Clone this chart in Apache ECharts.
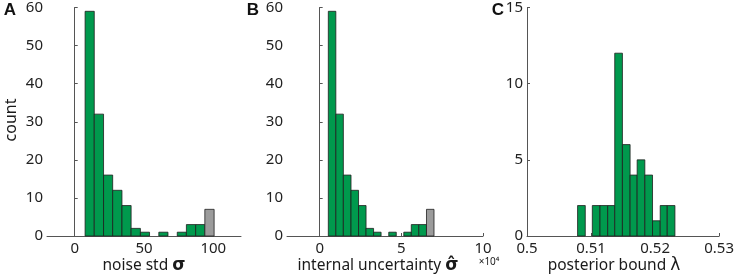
<!DOCTYPE html>
<html>
<head>
<meta charset="utf-8">
<script src="https://cdn.jsdelivr.net/npm/echarts@6/dist/echarts.min.js"></script>
<style>html,body{margin:0;padding:0;background:#fff;}#c{width:737px;height:280px;}</style>
</head>
<body>
<div id="c"></div>
<script>
// Panel A: noise std sigma
const edgesA = [7.5, 14.1, 20.8, 27.4, 34.1, 40.7, 47.4, 54.0, 60.7, 67.3, 74.0, 80.6, 87.3, 93.9, 100.6];
const countsA = [59, 32, 16, 12, 8, 2, 1, 0, 1, 0, 1, 3, 3, 7];
const excludedBinA = 13;
const xTicksA = [0, 50, 100];

// Panel B: internal uncertainty (x10^4)
const edgesB = [0.53, 0.99, 1.45, 1.92, 2.38, 2.84, 3.30, 3.76, 4.23, 4.69, 5.15, 5.61, 6.07, 6.54, 7.0];
const countsB = [59, 32, 16, 12, 8, 2, 1, 0, 1, 0, 1, 3, 3, 7];
const excludedBinB = 13;
const xTicksB = [0, 5, 10];

// Panel C: posterior bound lambda
const edgesC = [0.5079, 0.5091, 0.5102, 0.5114, 0.5126, 0.5137, 0.5149, 0.5161, 0.5172, 0.5184, 0.5196, 0.5208, 0.5219, 0.5231];
const countsC = [2, 0, 2, 2, 2, 12, 6, 4, 5, 4, 1, 2, 2];
const xTicksC = [0.5, 0.51, 0.52, 0.53];

const GREEN = '#00994d';
const GRAY = '#9b9b9b';
const AXIS = '#555555';
const FONT = 'Noto Sans';

function binData(edges, counts, excluded) {
  return counts.map((c, i) => [edges[i], edges[i + 1], c, i === excluded ? 1 : 0]);
}

function renderBar(params, api) {
  const y = api.value(2);
  if (!y) return null;
  const p0 = api.coord([api.value(0), y]);
  const p1 = api.coord([api.value(1), 0]);
  return {
    type: 'rect',
    shape: { x: p0[0], y: p0[1], width: p1[0] - p0[0], height: p1[1] - p0[1] },
    style: { fill: api.value(3) ? GRAY : GREEN, stroke: '#1e1e1e', lineWidth: 0.8 }
  };
}

function xAxisCfg(idx, min, max, ticks, fmt) {
  return {
    type: 'value', gridIndex: idx, min: min, max: max,
    axisLine: { show: true, lineStyle: { color: AXIS, width: 1 } },
    axisTick: { show: true, inside: true, length: 3, customValues: ticks, lineStyle: { color: AXIS } },
    axisLabel: { customValues: ticks, color: '#222', fontFamily: FONT, fontSize: 15, margin: 5, formatter: fmt },
    splitLine: { show: false }
  };
}
function yAxisCfg(idx, max, interval) {
  return {
    type: 'value', gridIndex: idx, min: 0, max: max, interval: interval,
    axisLine: { show: true, lineStyle: { color: AXIS, width: 1 } },
    axisTick: { show: true, inside: true, length: 3, lineStyle: { color: AXIS } },
    axisLabel: { color: '#222', fontFamily: FONT, fontSize: 15, margin: 4 },
    splitLine: { show: false }
  };
}

const chart = echarts.init(document.getElementById('c'), null, { renderer: 'canvas' });
const txt = (x, y, text, size, weight, extra) => Object.assign({
  type: 'text', x: x, y: y,
  style: { text: text, fill: '#1a1a1a', font: (weight || 'normal') + ' ' + size + 'px "' + FONT + '"', textAlign: 'center', textVerticalAlign: 'middle' }
}, extra || {});
const letter = (x, y, t) => ({
  type: 'text', x: x, y: y,
  style: { text: t, fill: '#111', font: 'bold 17px "Liberation Sans"', textAlign: 'center', textVerticalAlign: 'middle' }
});
const richTitle = (x, y, plain, sym, bold) => ({
  type: 'text', x: x, y: y,
  style: {
    text: '{a|' + plain + '}{s|' + sym + '}',
    textAlign: 'center', textVerticalAlign: 'middle',
    rich: {
      a: { fontFamily: FONT, fontSize: 15.5, fill: '#1a1a1a' },
      s: { fontFamily: 'DejaVu Sans', fontSize: 17, fontWeight: bold ? 'bold' : 'normal', fill: '#1a1a1a' }
    }
  }
});

chart.setOption({
  animation: false,
  grid: [
    { left: 47, top: 6, width: 194, height: 230 },
    { left: 287, top: 6, width: 196, height: 230 },
    { left: 527, top: 6, width: 197, height: 230 }
  ],
  xAxis: [
    xAxisCfg(0, -20, 120, xTicksA),
    xAxisCfg(1, -2, 10, xTicksB),
    xAxisCfg(2, 0.5, 0.53, xTicksC, v => String(Math.round(v * 100) / 100))
  ],
  yAxis: [
    yAxisCfg(0, 60, 10),
    yAxisCfg(1, 60, 10),
    yAxisCfg(2, 15, 5)
  ],
  series: [
    { type: 'custom', xAxisIndex: 0, yAxisIndex: 0, renderItem: renderBar, data: binData(edgesA, countsA, excludedBinA) },
    { type: 'custom', xAxisIndex: 1, yAxisIndex: 1, renderItem: renderBar, data: binData(edgesB, countsB, excludedBinB) },
    { type: 'custom', xAxisIndex: 2, yAxisIndex: 2, renderItem: renderBar, data: binData(edgesC, countsC, -1) }
  ],
  graphic: [
    letter(10, 10, 'A'),
    letter(253, 10, 'B'),
    letter(498, 10, 'C'),
    txt(11, 120, 'count', 16, 'normal', { rotation: Math.PI / 2 }),
    richTitle(144, 266, 'noise std ', 'σ', true),
    richTitle(378, 266, 'internal uncertainty ', 'σ̂', true),
    txt(489, 262, '×10⁴', 10),
    richTitle(614, 266, 'posterior bound ', 'λ', false)
  ]
});
</script>
</body>
</html>
